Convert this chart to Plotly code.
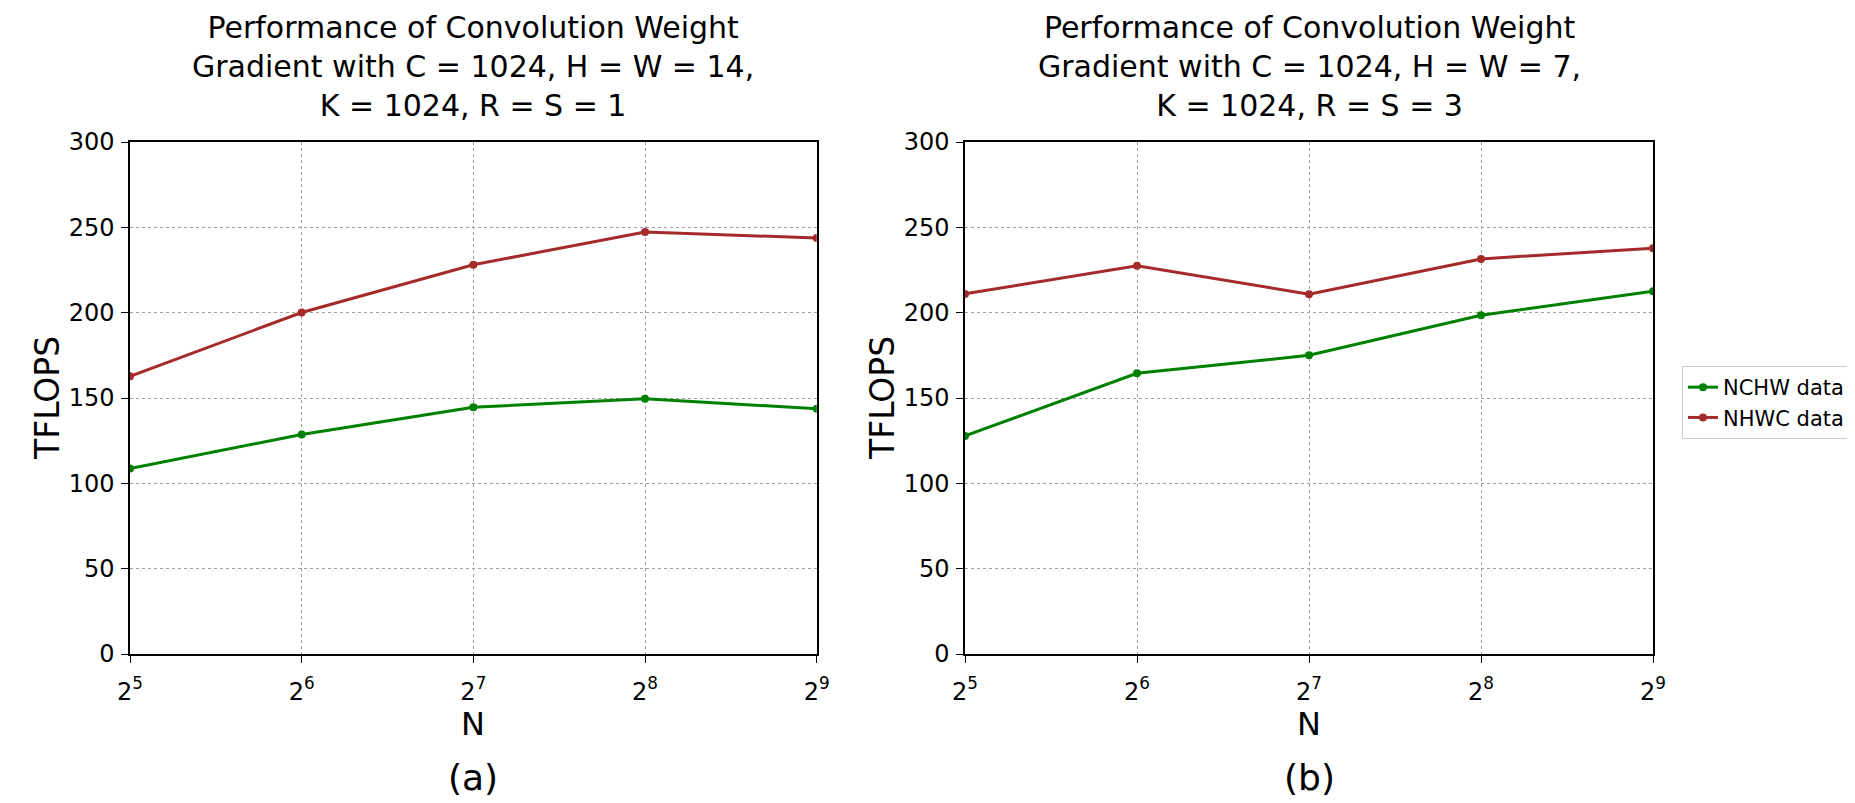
import plotly.graph_objects as go

N = [32, 64, 128, 256, 512]
tick_text = ["2<sup>5</sup>", "2<sup>6</sup>", "2<sup>7</sup>", "2<sup>8</sup>", "2<sup>9</sup>"]
y_ticks = [0, 50, 100, 150, 200, 250, 300]

# Panel (a): C=1024, H=W=14, K=1024, R=S=1
a_nchw = [108.7, 128.6, 144.6, 149.6, 143.7]
a_nhwc = [162.7, 200.1, 228.1, 247.2, 243.8]
# Panel (b): C=1024, H=W=7, K=1024, R=S=3
b_nchw = [127.8, 164.5, 175.0, 198.5, 212.6]
b_nhwc = [211.0, 227.5, 210.8, 231.5, 237.8]

titles = [
    "Performance of Convolution Weight<br>Gradient with C = 1024, H = W = 14,<br>K = 1024, R = S = 1",
    "Performance of Convolution Weight<br>Gradient with C = 1024, H = W = 7,<br>K = 1024, R = S = 3",
]
panel_labels = ["(a)", "(b)"]
series_names = ["NCHW data", "NHWC data"]
x_title = "N"
y_title = "TFLOPS"
GREEN = "#008000"
BROWN = "#a52a2a"
FONT = "DejaVu Sans"

# The page body adds an 8px margin; lay out in screen pixels and convert.
OFF = 8
W, H = 1855 - OFF, 803 - OFF


def px(xs):
    return (xs - OFF) / W


def py(ys):
    return 1 - (ys - OFF) / H


fig = go.Figure()

panels = [(a_nchw, a_nhwc), (b_nchw, b_nhwc)]
doms = [(130, 816.7), (965, 1653)]
ytop, ybot = 142, 654
ymid = py((ytop + ybot) / 2)

for i, ((nchw, nhwc), (x0, x1)) in enumerate(zip(panels, doms)):
    xa = "x" if i == 0 else "x2"
    ya = "y" if i == 0 else "y2"
    fig.add_trace(go.Scatter(x=N, y=nchw, mode="lines+markers", name=series_names[0],
                             line=dict(color=GREEN, width=3), marker=dict(size=8, color=GREEN),
                             xaxis=xa, yaxis=ya, showlegend=(i == 0), legendgroup="nchw"))
    fig.add_trace(go.Scatter(x=N, y=nhwc, mode="lines+markers", name=series_names[1],
                             line=dict(color=BROWN, width=3), marker=dict(size=8, color=BROWN),
                             xaxis=xa, yaxis=ya, showlegend=(i == 0), legendgroup="nhwc"))
    axis_common = dict(showline=True, linecolor="black", linewidth=1.5, mirror=True,
                       ticks="outside", ticklen=7, tickwidth=1.3, tickcolor="black",
                       showgrid=True, gridcolor="#a0a0a0", griddash="dot", gridwidth=1,
                       zeroline=False, automargin=False,
                       tickfont=dict(family=FONT, size=24, color="black"))
    xkey = "xaxis" if i == 0 else "xaxis2"
    ykey = "yaxis" if i == 0 else "yaxis2"
    fig.update_layout(**{
        xkey: dict(type="log", range=[1.50515, 2.70927], tickvals=N, ticktext=tick_text,
                   domain=[px(x0), px(x1)], anchor=ya, ticklabelstandoff=8, **axis_common),
        ykey: dict(range=[0, 300], tickvals=y_ticks, domain=[py(ybot), py(ytop)],
                   anchor=xa, ticklabelstandoff=2, **axis_common),
    })
    cx = px((x0 + x1) / 2)
    fig.add_annotation(text=titles[i], x=cx, y=py(67), xref="paper", yref="paper",
                       xanchor="center", yanchor="middle", showarrow=False,
                       font=dict(family=FONT, size=30, color="black"))
    fig.add_annotation(text=x_title, x=cx, y=py(724), xref="paper", yref="paper",
                       xanchor="center", yanchor="middle", showarrow=False,
                       font=dict(family=FONT, size=32, color="black"))
    fig.add_annotation(text=y_title, x=px(x0 - 83), y=ymid, xref="paper", yref="paper",
                       xanchor="center", yanchor="middle", showarrow=False, textangle=-90,
                       font=dict(family=FONT, size=33, color="black"))
    fig.add_annotation(text=panel_labels[i], x=cx, y=py(777), xref="paper", yref="paper",
                       xanchor="center", yanchor="middle", showarrow=False,
                       font=dict(family=FONT, size=36, color="black"))

fig.update_layout(
    width=W, height=H,
    margin=dict(l=0, r=0, t=0, b=0),
    paper_bgcolor="white", plot_bgcolor="white",
    legend=dict(x=px(1682), y=py(366), xanchor="left", yanchor="top",
                bordercolor="#cccccc", borderwidth=1, bgcolor="white",
                font=dict(family=FONT, size=21, color="black"), tracegroupgap=0),
)

fig.write_html("out.html")
